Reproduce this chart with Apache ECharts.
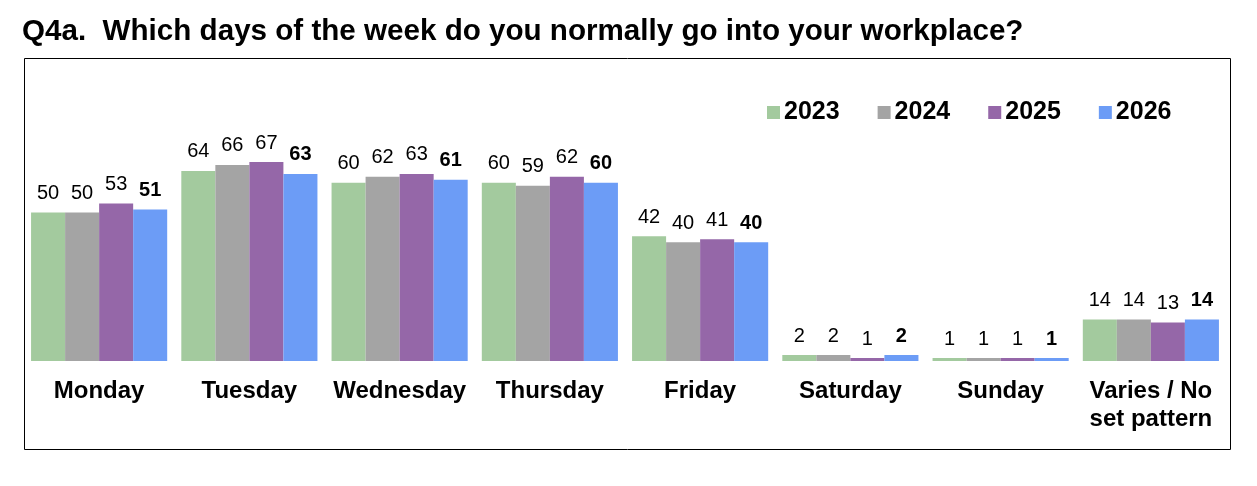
<!DOCTYPE html>
<html>
<head>
<meta charset="utf-8">
<script src="https://cdn.jsdelivr.net/npm/echarts@6/dist/echarts.min.js"></script>
<style>
  html, body { margin: 0; padding: 0; background: #fff; }
  #chart { width: 1257px; height: 486px; }
</style>
</head>
<body>
<div id="chart"></div>
<script>
var days = ['Monday', 'Tuesday', 'Wednesday', 'Thursday', 'Friday', 'Saturday', 'Sunday', 'Varies / No\nset pattern'];
var years = ['2023', '2024', '2025', '2026'];
var v2023 = [50, 64, 60, 60, 42, 2, 1, 14];
var v2024 = [50, 66, 62, 59, 40, 2, 1, 14];
var v2025 = [53, 67, 63, 62, 41, 1, 1, 13];
var v2026 = [51, 63, 61, 60, 40, 2, 1, 14];
var colors = ['#a3ca9e', '#a4a4a4', '#9567a8', '#6c9cf6'];

var chart = echarts.init(document.getElementById('chart'));

var makeSeries = function (name, values, idx) {
    return {
        name: name,
        type: 'bar',
        data: values,
        barGap: 0,
        barCategoryGap: '9.4%',
        itemStyle: { color: colors[idx] },
        label: {
            show: true,
            position: 'top',
            distance: 9,
            fontFamily: 'Liberation Sans, Arial',
            fontSize: 20,
            fontWeight: idx === 3 ? 'bold' : 'normal',
            color: '#000'
        }
    };
};

chart.setOption({
    animation: false,
    title: {
        text: 'Q4a.  Which days of the week do you normally go into your workplace?',
        left: 17,
        top: 12,
        textStyle: {
            fontFamily: 'Liberation Sans, Arial',
            fontSize: 29.6,
            fontWeight: 'bold',
            color: '#000'
        }
    },
    legend: {
        data: years,
        left: 762,
        top: 95,
        itemWidth: 13,
        itemHeight: 13,
        itemGap: 38,
        icon: 'rect',
        textStyle: {
            fontFamily: 'Liberation Sans, Arial',
            fontSize: 25,
            fontWeight: 'bold',
            color: '#000',
            padding: [0, 0, 0, -1]
        }
    },
    graphic: [{
        type: 'rect',
        shape: { x: 24.5, y: 58.5, width: 1206, height: 391 },
        style: { fill: 'none', stroke: '#000', lineWidth: 1 }
    }],
    grid: { left: 24, right: 31, top: 64, bottom: 125 },
    xAxis: {
        type: 'category',
        data: days,
        axisLine: { show: false },
        axisTick: { show: false },
        axisLabel: {
            interval: 0,
            margin: 16,
            fontFamily: 'Liberation Sans, Arial',
            fontSize: 24,
            fontWeight: 'bold',
            color: '#000',
            lineHeight: 28
        }
    },
    yAxis: {
        type: 'value',
        min: 0,
        max: 100,
        show: false
    },
    series: [
        makeSeries('2023', v2023, 0),
        makeSeries('2024', v2024, 1),
        makeSeries('2025', v2025, 2),
        makeSeries('2026', v2026, 3)
    ]
});
</script>
</body>
</html>
